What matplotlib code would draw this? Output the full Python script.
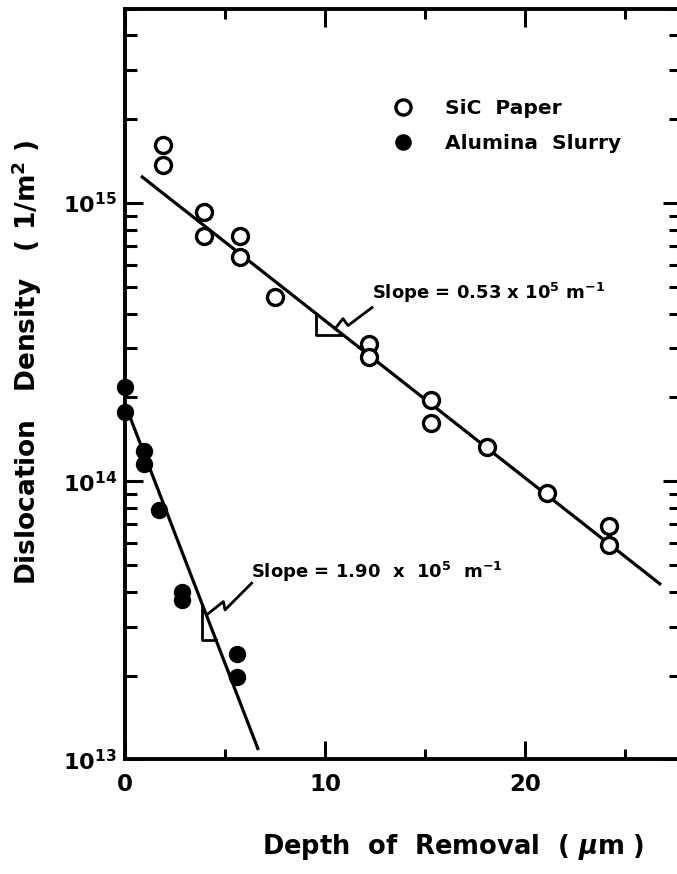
import numpy as np
import matplotlib
matplotlib.use("Agg")
import matplotlib.pyplot as plt
from matplotlib.ticker import MultipleLocator, LogLocator, NullFormatter, FixedLocator

# ---------------- data ----------------
sic_depth = [1.9, 1.9, 3.95, 3.95, 5.75, 5.75, 7.5, 12.2, 12.2, 15.3, 15.3, 18.1, 21.1, 24.2, 24.2]
sic_density = [1.61e15, 1.37e15, 9.3e14, 7.6e14, 7.6e14, 6.4e14, 4.6e14, 3.1e14, 2.8e14,
               1.95e14, 1.62e14, 1.33e14, 9.1e13, 6.9e13, 5.9e13]

alu_depth = [0.0, 0.0, 0.97, 0.97, 1.72, 2.83, 2.83, 5.58, 5.58]
alu_density = [2.18e14, 1.77e14, 1.28e14, 1.15e14, 7.9e13, 4.0e13, 3.75e13, 2.39e13, 1.97e13]

sic_fit_x = [0.8, 26.8]
sic_fit_y = [1.25e15, 4.24e13]
alu_fit_x = [0.17, 6.67]
alu_fit_y = [1.76e14, 1.08e13]

sic_slope_label = r"Slope = 0.53 x 10$^\mathbf{5}$ m$^\mathbf{-1}$"
alu_slope_label = r"Slope = 1.90  x  10$^\mathbf{5}$  m$^\mathbf{-1}$"
series_labels = ["SiC  Paper", "Alumina  Slurry"]
xtick_values = [0, 10, 20]

# ---------------- figure ----------------
W, H = 677, 874
plt.rcParams['font.family'] = ['DejaVu Sans']
plt.rcParams['font.weight'] = 'bold'
plt.rcParams['axes.labelweight'] = 'bold'
plt.rcParams['mathtext.fontset'] = 'custom'
plt.rcParams['mathtext.rm'] = 'DejaVu Sans:bold'
plt.rcParams['mathtext.it'] = 'DejaVu Sans:bold:italic'
plt.rcParams['mathtext.bf'] = 'DejaVu Sans:bold'
plt.rcParams['mathtext.default'] = 'bf'
fig = plt.figure(figsize=(W / 100, H / 100), dpi=100)

left_px, right_px, top_px, bottom_px = 125, 681, 8.5, 759.3
ax = fig.add_axes([left_px / W, 1 - bottom_px / H, (right_px - left_px) / W, (bottom_px - top_px) / H])
ax.set_yscale('log')
ax.set_xlim(0, (right_px - left_px) / 20.0)
ax.set_ylim(1e13, 5.0e15)

lw_line = 2.3
ax.plot(sic_fit_x, sic_fit_y, color='black', lw=lw_line, zorder=2, solid_capstyle='butt')
ax.plot(alu_fit_x, alu_fit_y, color='black', lw=lw_line, zorder=2, solid_capstyle='butt')

ax.plot(sic_depth, sic_density, ls='none', marker='o', ms=11.5, mfc='white', mec='black',
        mew=2.4, zorder=3, clip_on=False, label=series_labels[0])
ax.plot(alu_depth, alu_density, ls='none', marker='o', ms=11.5, mfc='black', mec='black',
        mew=1.0, zorder=3, clip_on=False, label=series_labels[1])


def line_at(fx, fy, x):
    ly = np.interp(x, fx, np.log10(fy))
    return 10 ** ly


def slope_triangle(fx, fy, x0, x1):
    y0 = line_at(fx, fy, x0)
    y1 = line_at(fx, fy, x1)
    ax.plot([x0, x0, x1], [y0, y1, y1], color='black', lw=2.0, zorder=2)


slope_triangle(sic_fit_x, sic_fit_y, 9.55, 10.9)
slope_triangle(alu_fit_x, alu_fit_y, 3.87, 4.55)

# zig-zag leaders from triangles to labels
ax.plot([10.5, 10.9, 11.15, 12.35], [10 ** 14.548, 10 ** 14.584, 10 ** 14.559, 10 ** 14.624],
        color='black', lw=2.0, zorder=2)
ax.plot([4.08, 4.92, 5.0, 6.33], [10 ** 13.519, 10 ** 13.567, 10 ** 13.537, 10 ** 13.633],
        color='black', lw=2.0, zorder=2)

ax.text(12.35, 10 ** 14.677, sic_slope_label, fontsize=13, ha='left', va='center')
ax.text(6.3, 10 ** 13.674, alu_slope_label, fontsize=13, ha='left', va='center')

# ---------------- axes styling ----------------
for sp in ax.spines.values():
    sp.set_linewidth(2.8)

ax.xaxis.set_major_locator(FixedLocator(xtick_values))
ax.xaxis.set_minor_locator(MultipleLocator(5))
ax.set_xticklabels([str(v) for v in xtick_values])
ax.yaxis.set_major_locator(LogLocator(base=10, numticks=10))
ax.yaxis.set_minor_locator(LogLocator(base=10, subs=np.arange(2, 10), numticks=20))
ax.yaxis.set_minor_formatter(NullFormatter())

ax.tick_params(axis='both', which='both', direction='in', top=True, right=True, width=2.2, colors='black')
ax.tick_params(axis='x', which='major', length=13, pad=10, labelsize=16.5)
ax.tick_params(axis='x', which='minor', length=7.5)
ax.tick_params(axis='y', which='major', length=13, pad=6, labelsize=16)
ax.tick_params(axis='y', which='minor', length=8.6)

ax.set_xlabel(r"Depth  of  Removal  ( $\mathit{\mu}$m )", fontsize=18.5)
ax.xaxis.set_label_coords((453 - left_px) / (right_px - left_px), (bottom_px - 832) / (bottom_px - top_px))
ax.set_ylabel(r"Dislocation   Density   ( 1/m$^\mathbf{2}$ )", fontsize=19)
ax.yaxis.set_label_coords((44 - left_px) / (right_px - left_px), (bottom_px - 362) / (bottom_px - top_px))

leg = ax.legend(loc='center left', bbox_to_anchor=(383 / W, 1 - 126 / H), bbox_transform=fig.transFigure,
                frameon=False, fontsize=14.5, handlelength=1.0, handletextpad=1.6, borderpad=0,
                labelspacing=0.8, markerscale=0.95)

fig.savefig("out.png", dpi=100, facecolor='white')
